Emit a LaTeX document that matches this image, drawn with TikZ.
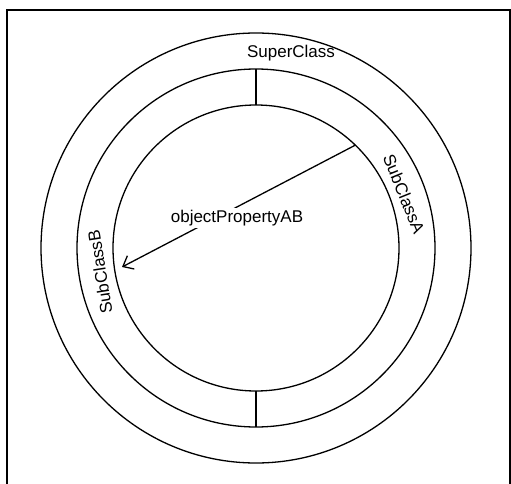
\documentclass[tikz,border=0pt]{standalone}
\usepackage{fontspec}
\setmainfont{Liberation Sans}
\usetikzlibrary{arrows.meta}
\begin{document}
\begin{tikzpicture}[x=1pt,y=-1pt,
  ring/.style={circle, draw, line width=1.3pt, minimum size=#1, inner sep=0pt, outer sep=0pt},
  lbl/.style={font=\fontsize{17}{20}\selectfont, inner sep=1pt},
  divider/.style={line width=1.3pt},
  rel/.style={line width=1.3pt, -{Straight Barb[length=9pt,width=15pt,line width=1.3pt]}}
]
\useasboundingbox (0,0) rectangle (511,484);
% surrounding frame (open at the bottom edge of the page)
\draw[line width=1.2pt] (7,490) -- (7,10) -- (510,10) -- (510,490);

% three concentric circles
\node[ring=430pt] (outer) at (256,248) {};
\node[ring=358pt] (mid)   at (256,248) {};
\node[ring=286pt] (inn)   at (256,248) {};

% dividers splitting the middle ring into two halves
\draw[divider] (mid.north) -- (inn.north);
\draw[divider] (mid.south) -- (inn.south);

% labels
\node[lbl] (super) at (291,53) {SuperClass};
\node[lbl, rotate=-68] (subA) at (404,194) {SubClassA};
\node[lbl, rotate=99] (subB) at (100,272) {SubClassB};

% object property from A to B
\coordinate (tipB) at (122,267);
\draw[rel] (inn.46) -- (tipB);
\node[lbl, fill=white, inner sep=2pt] (prop) at (237,218) {objectPropertyAB};
\end{tikzpicture}
\end{document}
